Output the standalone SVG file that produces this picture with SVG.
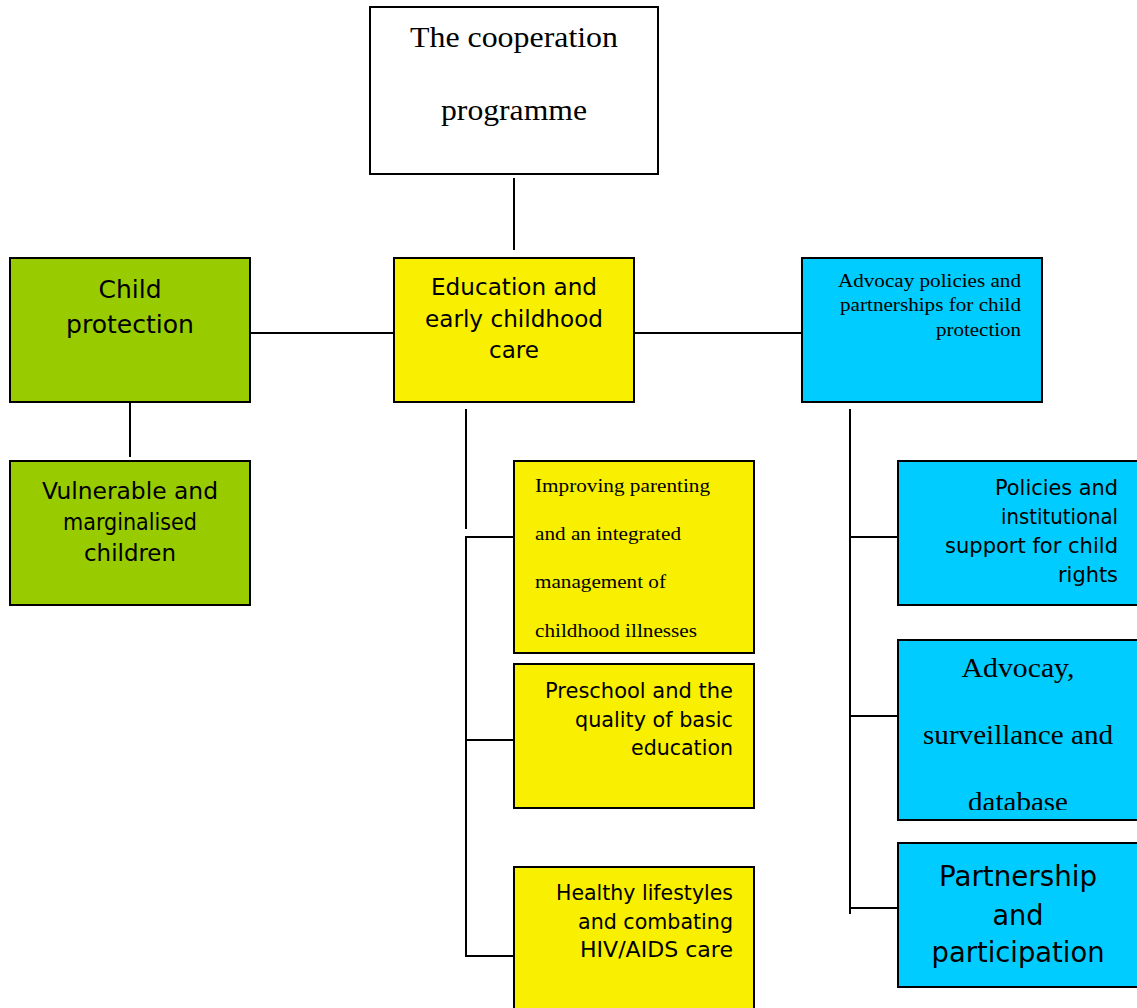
<svg xmlns="http://www.w3.org/2000/svg" width="1137" height="1008" viewBox="0 0 1137 1008">
<style>
.box{stroke:#000;stroke-width:2}
.g{fill:#99cc00}
.y{fill:#f8f000}
.b{fill:#00ccff}
.w{fill:#fff}
.sans{font-family:"DejaVu Sans",Verdana,sans-serif;fill:#000}
.serif{font-family:"Liberation Serif","Times New Roman",serif;fill:#000}
.c{text-anchor:middle}
.r{text-anchor:end}
.conn line{stroke:#000;stroke-width:2}
</style>
<defs>
<clipPath id="clipAdv"><rect x="899" y="641" width="238" height="169"/></clipPath>
</defs>
<rect width="1137" height="1008" fill="#fff"/>
<g class="conn" id="connectors">
<line x1="514" y1="178" x2="514" y2="250"/>
<line x1="250" y1="333" x2="394" y2="333"/>
<line x1="634" y1="333" x2="802" y2="333"/>
<line x1="130" y1="402" x2="130" y2="457"/>
<line x1="466" y1="409" x2="466" y2="529"/>
<line x1="466" y1="536" x2="466" y2="957"/>
<line x1="465" y1="537" x2="514" y2="537"/>
<line x1="465" y1="740" x2="514" y2="740"/>
<line x1="465" y1="956" x2="514" y2="956"/>
<line x1="850" y1="409" x2="850" y2="914"/>
<line x1="850" y1="537" x2="898" y2="537"/>
<line x1="850" y1="716" x2="898" y2="716"/>
<line x1="850" y1="908" x2="898" y2="908"/>
</g>
<g id="node-coop">
<rect class="box w" x="370" y="7" width="288" height="167"/>
<text class="serif c" x="514" y="47" font-size="30" textLength="208" lengthAdjust="spacingAndGlyphs">The cooperation</text>
<text class="serif c" x="514" y="120" font-size="30" textLength="146" lengthAdjust="spacingAndGlyphs">programme</text>
</g>
<g id="node-child-protection">
<rect class="box g" x="10" y="258" width="240" height="144"/>
<text class="sans c" x="130" y="298" font-size="24" textLength="63" lengthAdjust="spacingAndGlyphs">Child</text>
<text class="sans c" x="130" y="333" font-size="24" textLength="128" lengthAdjust="spacingAndGlyphs">protection</text>
</g>
<g id="node-education">
<rect class="box y" x="394" y="258" width="240" height="144"/>
<text class="sans c" x="514" y="295" font-size="23" textLength="166" lengthAdjust="spacingAndGlyphs">Education and</text>
<text class="sans c" x="514" y="327" font-size="23" textLength="178" lengthAdjust="spacingAndGlyphs">early childhood</text>
<text class="sans c" x="514" y="358" font-size="23" textLength="50" lengthAdjust="spacingAndGlyphs">care</text>
</g>
<g id="node-advocacy-policies">
<rect class="box b" x="802" y="258" width="240" height="144"/>
<text class="serif r" x="1021" y="287" font-size="19" textLength="183" lengthAdjust="spacingAndGlyphs">Advocay policies and</text>
<text class="serif r" x="1021" y="311" font-size="19" textLength="181" lengthAdjust="spacingAndGlyphs">partnerships for child</text>
<text class="serif r" x="1021" y="336" font-size="19" textLength="85" lengthAdjust="spacingAndGlyphs">protection</text>
</g>
<g id="node-vulnerable">
<rect class="box g" x="10" y="461" width="240" height="144"/>
<text class="sans c" x="130" y="499" font-size="23" textLength="176" lengthAdjust="spacingAndGlyphs">Vulnerable and</text>
<text class="sans c" x="130" y="530" font-size="23" textLength="134" lengthAdjust="spacingAndGlyphs">marginalised</text>
<text class="sans c" x="130" y="561" font-size="23" textLength="92" lengthAdjust="spacingAndGlyphs">children</text>
</g>
<g id="node-parenting">
<rect class="box y" x="514" y="461" width="240" height="192"/>
<text class="serif" x="535" y="492" font-size="19" textLength="175" lengthAdjust="spacingAndGlyphs">Improving parenting</text>
<text class="serif" x="535" y="540" font-size="19" textLength="146" lengthAdjust="spacingAndGlyphs">and an integrated</text>
<text class="serif" x="535" y="588" font-size="19" textLength="131" lengthAdjust="spacingAndGlyphs">management of</text>
<text class="serif" x="535" y="637" font-size="19" textLength="162" lengthAdjust="spacingAndGlyphs">childhood illnesses</text>
</g>
<g id="node-preschool">
<rect class="box y" x="514" y="664" width="240" height="144"/>
<text class="sans r" x="733" y="698" font-size="21" textLength="188" lengthAdjust="spacingAndGlyphs">Preschool and the</text>
<text class="sans r" x="733" y="727" font-size="21" textLength="158" lengthAdjust="spacingAndGlyphs">quality of basic</text>
<text class="sans r" x="733" y="755" font-size="21" textLength="102" lengthAdjust="spacingAndGlyphs">education</text>
</g>
<g id="node-healthy">
<rect class="box y" x="514" y="867" width="240" height="150"/>
<text class="sans r" x="733" y="900" font-size="21" textLength="177" lengthAdjust="spacingAndGlyphs">Healthy lifestyles</text>
<text class="sans r" x="733" y="929" font-size="21" textLength="155" lengthAdjust="spacingAndGlyphs">and combating</text>
<text class="sans r" x="733" y="957" font-size="21" textLength="153" lengthAdjust="spacingAndGlyphs">HIV/AIDS care</text>
</g>
<g id="node-policies">
<rect class="box b" x="898" y="461" width="250" height="144"/>
<text class="sans r" x="1118" y="495" font-size="21" textLength="123" lengthAdjust="spacingAndGlyphs">Policies and</text>
<text class="sans r" x="1118" y="524" font-size="21" textLength="117" lengthAdjust="spacingAndGlyphs">institutional</text>
<text class="sans r" x="1118" y="553" font-size="21" textLength="173" lengthAdjust="spacingAndGlyphs">support for child</text>
<text class="sans r" x="1118" y="582" font-size="21" textLength="60" lengthAdjust="spacingAndGlyphs">rights</text>
</g>
<g id="node-surveillance">
<rect class="box b" x="898" y="640" width="250" height="180"/>
<g clip-path="url(#clipAdv)">
<text class="serif c" x="1018" y="677" font-size="28" textLength="113" lengthAdjust="spacingAndGlyphs">Advocay,</text>
<text class="serif c" x="1018" y="744" font-size="28" textLength="190" lengthAdjust="spacingAndGlyphs">surveillance and</text>
<text class="serif c" x="1018" y="811" font-size="28" textLength="100" lengthAdjust="spacingAndGlyphs">database</text>
</g>
</g>
<g id="node-partnership">
<rect class="box b" x="898" y="843" width="250" height="144"/>
<text class="sans c" x="1018" y="886" font-size="29" textLength="158" lengthAdjust="spacingAndGlyphs">Partnership</text>
<text class="sans c" x="1018" y="925" font-size="29" textLength="51" lengthAdjust="spacingAndGlyphs">and</text>
<text class="sans c" x="1018" y="962" font-size="29" textLength="173" lengthAdjust="spacingAndGlyphs">participation</text>
</g>
</svg>
